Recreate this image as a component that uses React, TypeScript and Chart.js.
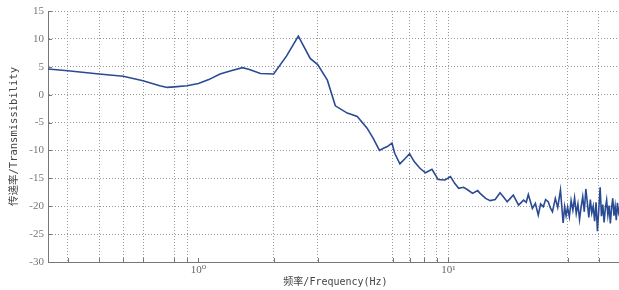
import React, { useEffect, useRef } from 'react';
import { Chart, registerables } from 'chart.js';

Chart.register(...registerables);

// Frequency (Hz)
const freqHz = [
  0.25, 0.3, 0.4, 0.5, 0.6, 0.7, 0.75, 0.8, 0.9, 1.0,
  1.1, 1.22, 1.35, 1.5, 1.6, 1.77, 2.0, 2.25, 2.51, 2.8,
  3.0, 3.28, 3.53, 3.94, 4.32, 4.73, 5.0, 5.3, 5.5, 5.7,
  5.95, 6.1, 6.4, 6.7, 7.0, 7.3, 7.7, 8.1, 8.6, 9.1,
  9.7, 10.2, 10.6, 11.0, 11.5, 11.9, 12.5, 13.1, 13.4, 14.1,
  14.7, 15.4, 16.1, 16.6, 17.2, 17.7, 18.2, 19.1, 20.0, 20.5,
  20.9, 21.7, 22.3, 22.9, 23.4, 24.0, 24.5, 25.1, 25.6, 26.1,
  26.8, 27.4, 28.1, 28.8, 29.2, 29.6, 30.0, 30.5, 31.0, 31.5,
  32.0, 32.5, 33.0, 33.5, 34.0, 34.5, 35.0, 35.5, 36.0, 36.5,
  37.0, 37.5, 38.0, 38.5, 39.0, 39.5, 40.0, 40.5, 41.0, 41.5,
  42.0, 42.5, 43.0, 43.5, 44.0, 44.5, 45.0, 45.5, 46.0, 46.5,
  47.0, 47.5, 48.0, 48.5
];

// Transmissibility (dB)
const transmissibility = [
  4.6, 4.3, 3.7, 3.3, 2.5, 1.6, 1.3, 1.4, 1.6, 2.0,
  2.7, 3.7, 4.3, 4.85, 4.5, 3.8, 3.7, 6.9, 10.5, 6.5,
  5.4, 2.6, -2.0, -3.3, -3.9, -6.0, -7.8, -10.0, -9.6, -9.3,
  -8.7, -10.5, -12.4, -11.5, -10.6, -12.0, -13.2, -14.0, -13.4, -15.2,
  -15.3, -14.7, -15.9, -16.8, -16.6, -17.0, -17.7, -17.2, -17.7, -18.6,
  -19.0, -18.8, -17.6, -18.3, -19.2, -18.6, -18.0, -19.8, -18.9, -19.3,
  -17.9, -20.4, -19.5, -21.6, -19.6, -20.1, -18.8, -19.2, -20.3, -21.0,
  -18.6, -20.2, -17.1, -23.0, -20.1, -21.7, -20.2, -21.9, -19.0, -20.7,
  -18.5, -21.3, -19.6, -22.4, -20.1, -18.3, -21.0, -16.9, -19.4, -22.0,
  -18.8, -21.2, -20.0, -22.7, -19.3, -24.5, -20.6, -16.6, -21.8, -19.7,
  -22.9, -20.4, -18.9, -21.6, -19.9, -23.1, -20.3, -18.6, -21.7, -20.0,
  -22.5, -19.4, -21.1, -20.2
];

const yTickValues = [-30, -25, -20, -15, -10, -5, 0, 5, 10, 15];
const xGridValues = [0.3, 0.4, 0.5, 0.6, 0.8, 0.9, 1, 2, 3, 6, 7, 8, 9, 10, 30, 40];
const xLabelValues = [1, 10];
const xLabelTexts = ['10\u2070', '10\u00B9'];

const xTitle = '频率/Frequency(Hz)';
const yTitle = '传递率/Transmissibility';

const titleFont = '"DejaVu Sans Mono", "Noto Sans CJK SC", monospace';
const tickFont = '"Liberation Serif", "DejaVu Serif", serif';

export default function App() {
  const ref = useRef<HTMLCanvasElement | null>(null);

  useEffect(() => {
    const canvas = ref.current;
    if (!canvas) return;

    const bgPlugin = {
      id: 'bg',
      beforeDraw(chart: any) {
        const c = chart.ctx;
        c.save();
        c.fillStyle = '#ffffff';
        c.fillRect(0, 0, chart.width, chart.height);
        c.restore();
      },
    };

    const inwardTicks = {
      id: 'inwardTicks',
      afterDraw(chart: any) {
        const c = chart.ctx;
        const area = chart.chartArea;
        const xs = chart.scales.x;
        const ys = chart.scales.y;
        c.save();
        c.strokeStyle = '#777777';
        c.lineWidth = 1;
        c.beginPath();
        ys.ticks.forEach((t: any) => {
          const y = Math.round(ys.getPixelForValue(t.value)) + 0.5;
          c.moveTo(area.left, y);
          c.lineTo(area.left + 4, y);
        });
        xs.ticks.forEach((t: any) => {
          const x = Math.round(xs.getPixelForValue(t.value)) + 0.5;
          c.moveTo(x, area.bottom);
          c.lineTo(x, area.bottom - 4);
        });
        c.stroke();
        c.restore();
      },
    };

    const chart = new Chart(canvas, {
      type: 'line',
      data: {
        datasets: [
          {
            data: freqHz.map((f, i) => ({ x: f, y: transmissibility[i] })),
            borderColor: '#2a4b94',
            borderWidth: 1.6,
            pointRadius: 0,
            tension: 0,
            fill: false,
          },
        ],
      },
      options: {
        responsive: false,
        animation: false,
        devicePixelRatio: 1,
        layout: { padding: { top: 11, right: 0, bottom: 0, left: 0 } },
        plugins: {
          legend: { display: false },
          tooltip: { enabled: false },
        },
        scales: {
          x: {
            type: 'logarithmic',
            min: 0.25,
            max: 50,
            afterBuildTicks: (s: any) => {
              s.ticks = xGridValues.map((v) => ({ value: v }));
            },
            afterFit: (s: any) => {
              s.height = 28;
            },
            ticks: {
              autoSkip: false,
              maxRotation: 0,
              padding: 2,
              color: '#666666',
              font: { family: tickFont, size: 11 },
              callback: (v: any) => {
                const i = xLabelValues.indexOf(Number(v));
                return i >= 0 ? xLabelTexts[i] : '';
              },
            },
            grid: {
              drawTicks: false,
              lineWidth: 1,
              color: (ctx: any) =>
                ctx.tick && ctx.tick.value === 1 ? 'rgba(0,0,0,0)' : '#999999',
            },
            border: { display: true, color: '#777777', width: 1, dash: [1, 2] },
            title: {
              display: true,
              text: xTitle,
              color: '#444444',
              font: { family: titleFont, size: 10 },
              padding: { top: 0, bottom: 2 },
            },
          },
          y: {
            type: 'linear',
            min: -30,
            max: 15,
            afterBuildTicks: (s: any) => {
              s.ticks = yTickValues.map((v) => ({ value: v }));
            },
            afterFit: (s: any) => {
              s.width = 48;
            },
            ticks: {
              padding: 4,
              color: '#777777',
              font: { family: tickFont, size: 11 },
              callback: (v: any) => String(v),
            },
            grid: {
              drawTicks: false,
              lineWidth: 1,
              color: '#999999',
            },
            border: { display: true, color: '#777777', width: 1, dash: [1, 2] },
            title: {
              display: true,
              text: yTitle,
              color: '#444444',
              font: { family: titleFont, size: 10.5 },
              padding: { top: 8, bottom: 0 },
            },
          },
        },
      },
      plugins: [bgPlugin, inwardTicks],
    } as any);

    return () => chart.destroy();
  }, []);

  return (
    <div
      style={{
        position: 'fixed',
        left: 0,
        top: 0,
        width: 619,
        height: 290,
        overflow: 'hidden',
        background: '#ffffff',
      }}
    >
      <canvas ref={ref} width={623} height={290} style={{ display: 'block' }} />
    </div>
  );
}
